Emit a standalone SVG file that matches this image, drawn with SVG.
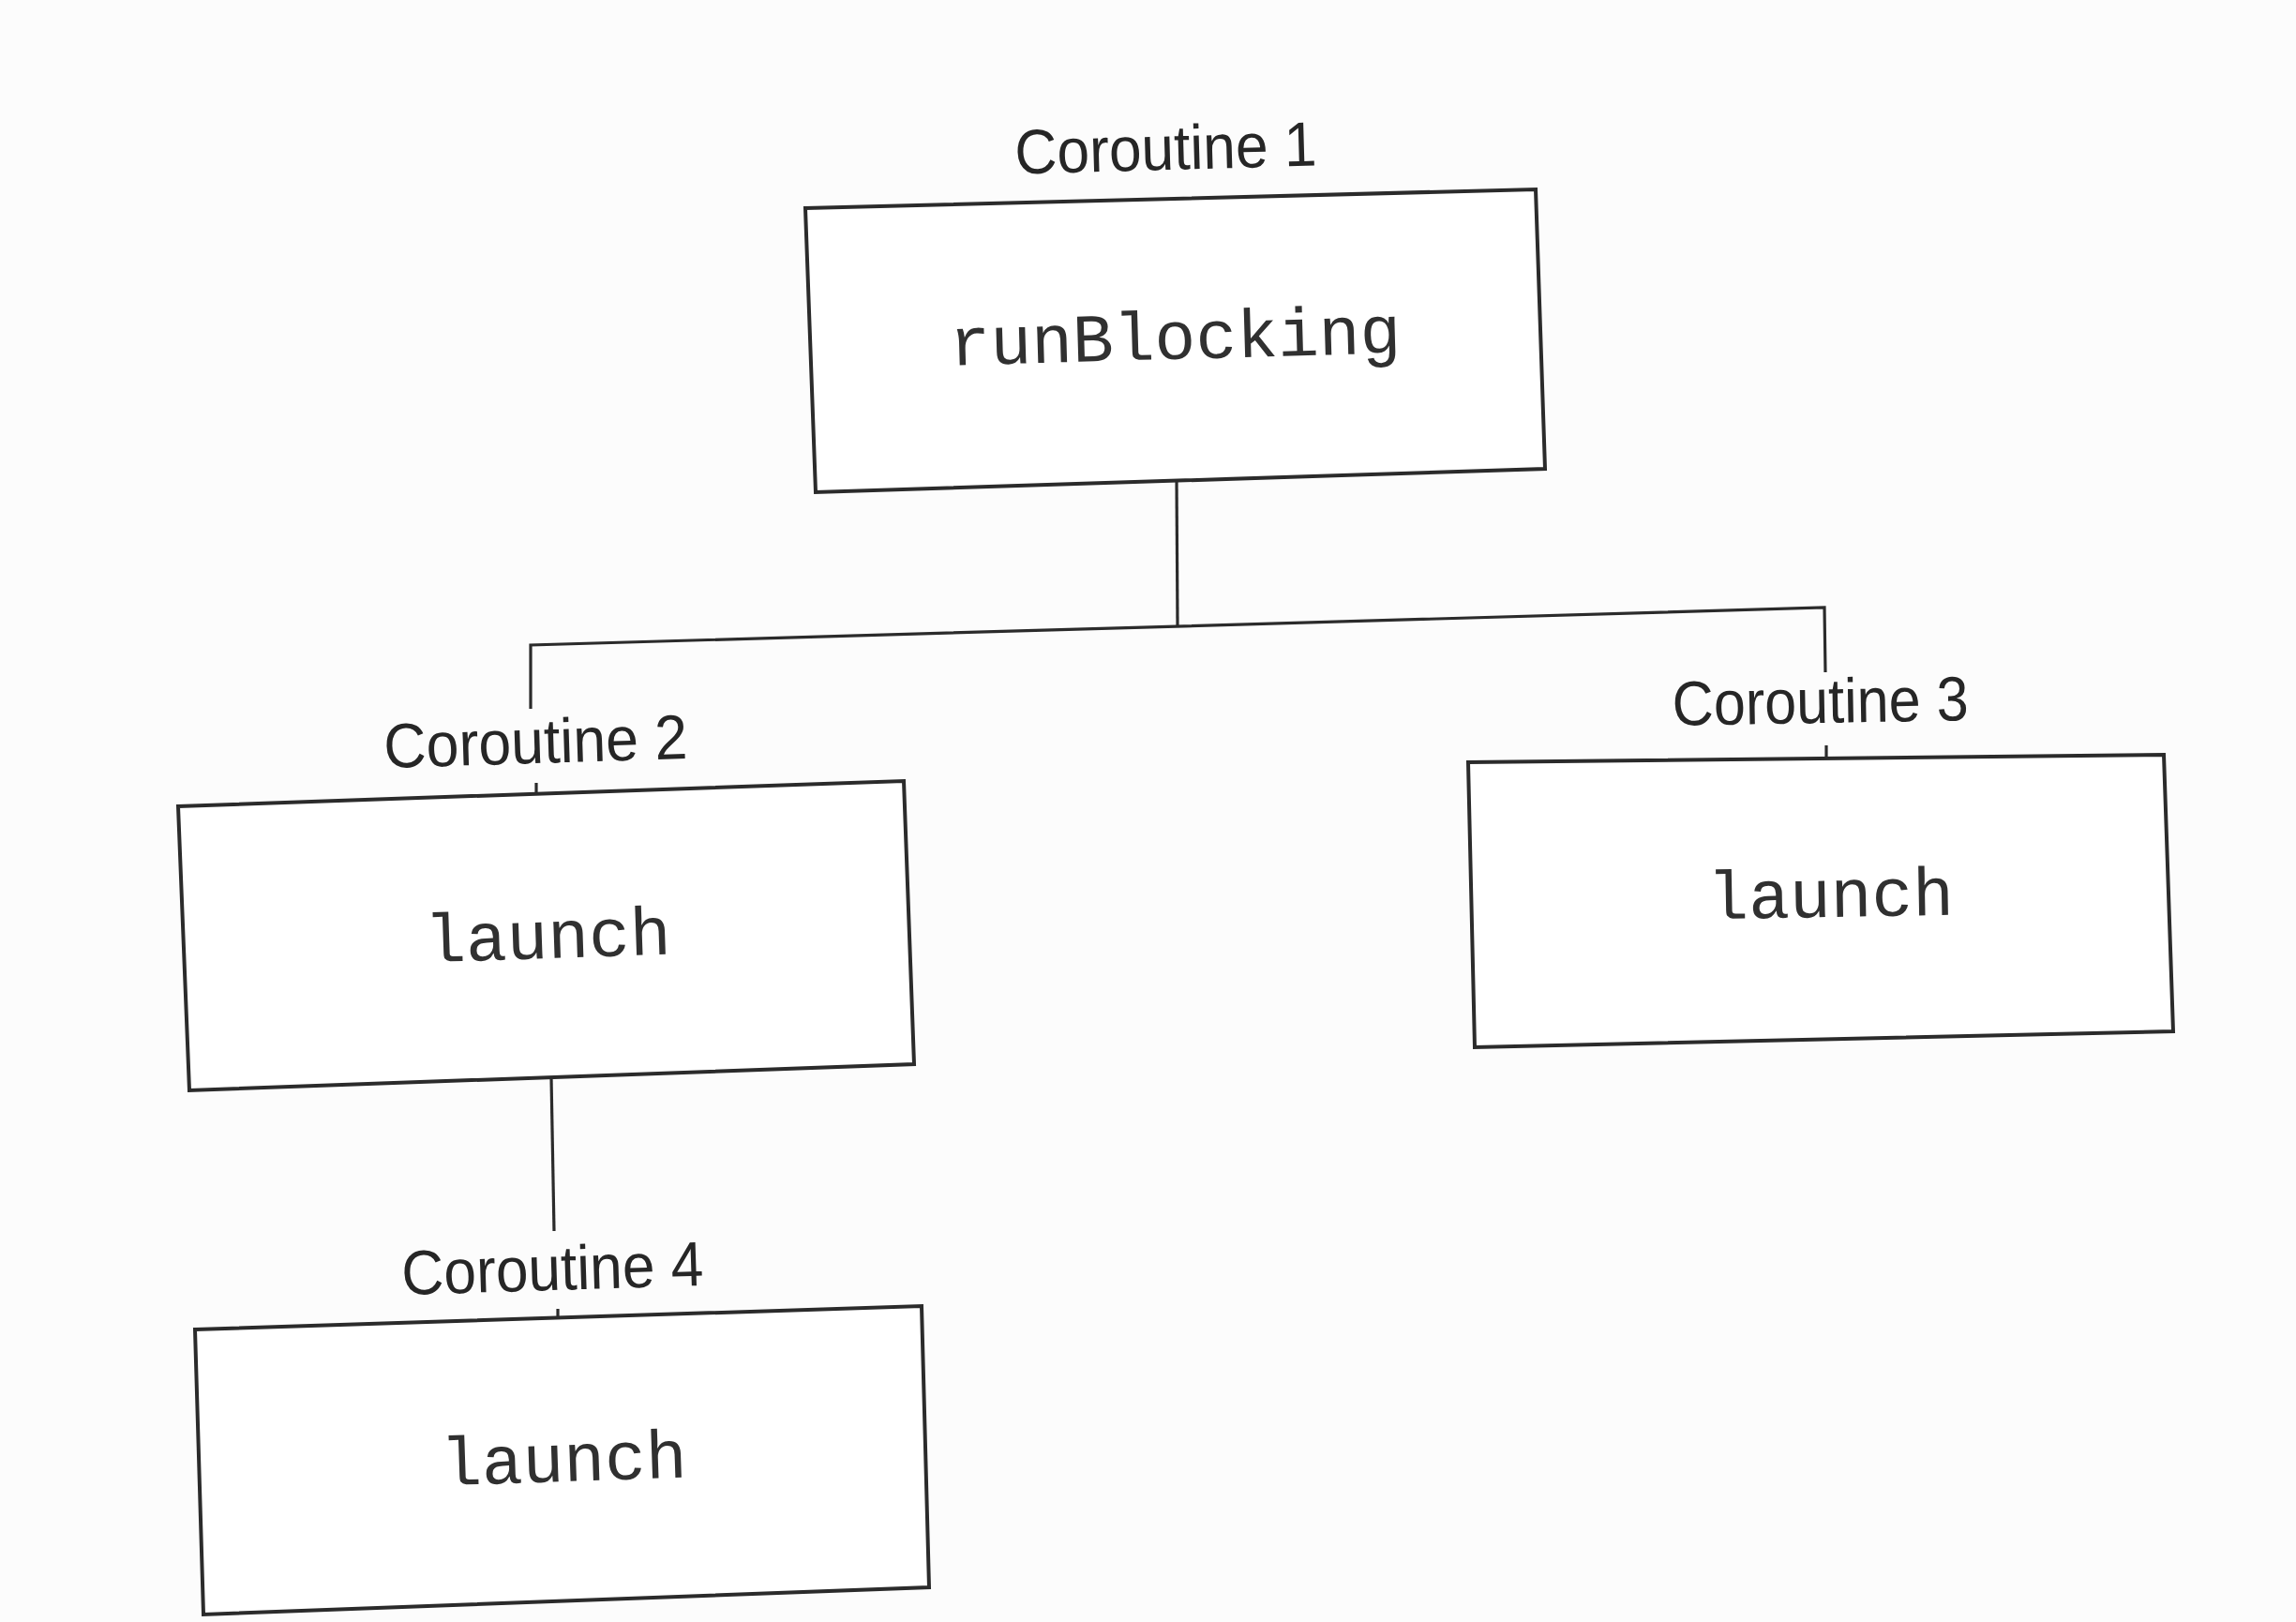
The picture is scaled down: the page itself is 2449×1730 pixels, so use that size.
<svg xmlns="http://www.w3.org/2000/svg" width="2449" height="1730" viewBox="0 0 2449 1730">
<style>
.box{fill:#ffffff;stroke:#2b2b2b;stroke-width:4;stroke-linejoin:miter}
.con{fill:none;stroke:#2b2b2b;stroke-width:3.2}
.lbl{font-family:"Liberation Sans",Arial,sans-serif;font-size:67px;fill:#262626;text-anchor:middle}
.code{font-family:"Liberation Mono","Courier New",monospace;font-size:73px;fill:#303030;text-anchor:middle}
</style>
<rect x="0" y="0" width="2449" height="1730" fill="#fcfcfc"/>
<g id="connectors">
<path class="con" d="M1255,512 L1256,668"/>
<path class="con" d="M566,756 L566,688 L1946,648 L1947,717"/>
<path class="con" d="M572,835 L572,847"/>
<path class="con" d="M1948,795 L1948,809"/>
<path class="con" d="M588,1149 L591,1313"/>
<path class="con" d="M595,1396 L595,1406"/>
</g>
<g id="coroutine1">
<text class="lbl" x="1244" y="181" textLength="322" lengthAdjust="spacingAndGlyphs" transform="rotate(-1.6 1244 181)">Coroutine 1</text>
<polygon class="box" points="859,222 1638,202 1648,500 870,525"/>
<text class="code" x="1254" y="383" transform="rotate(-1.6 1254 383)">runBlocking</text>
</g>
<g id="coroutine2">
<text class="lbl" x="572" y="814" textLength="324" lengthAdjust="spacingAndGlyphs" transform="rotate(-1.8 572 814)">Coroutine 2</text>
<polygon class="box" points="190,860 964,833 975,1135 202,1163"/>
<text class="code" x="585" y="1022" transform="rotate(-1.9 585 1022)">launch</text>
</g>
<g id="coroutine3">
<text class="lbl" x="1942" y="771" textLength="316" lengthAdjust="spacingAndGlyphs" transform="rotate(-1 1942 771)">Coroutine 3</text>
<polygon class="box" points="1566,813 2308,805 2318,1100 1573,1117"/>
<text class="code" x="1953" y="978" transform="rotate(-1 1953 978)">launch</text>
</g>
<g id="coroutine4">
<text class="lbl" x="590" y="1376" textLength="322" lengthAdjust="spacingAndGlyphs" transform="rotate(-1.8 590 1376)">Coroutine 4</text>
<polygon class="box" points="208,1418 983,1393 991,1693 217,1722"/>
<text class="code" x="602" y="1580" transform="rotate(-1.9 602 1580)">launch</text>
</g>
</svg>
